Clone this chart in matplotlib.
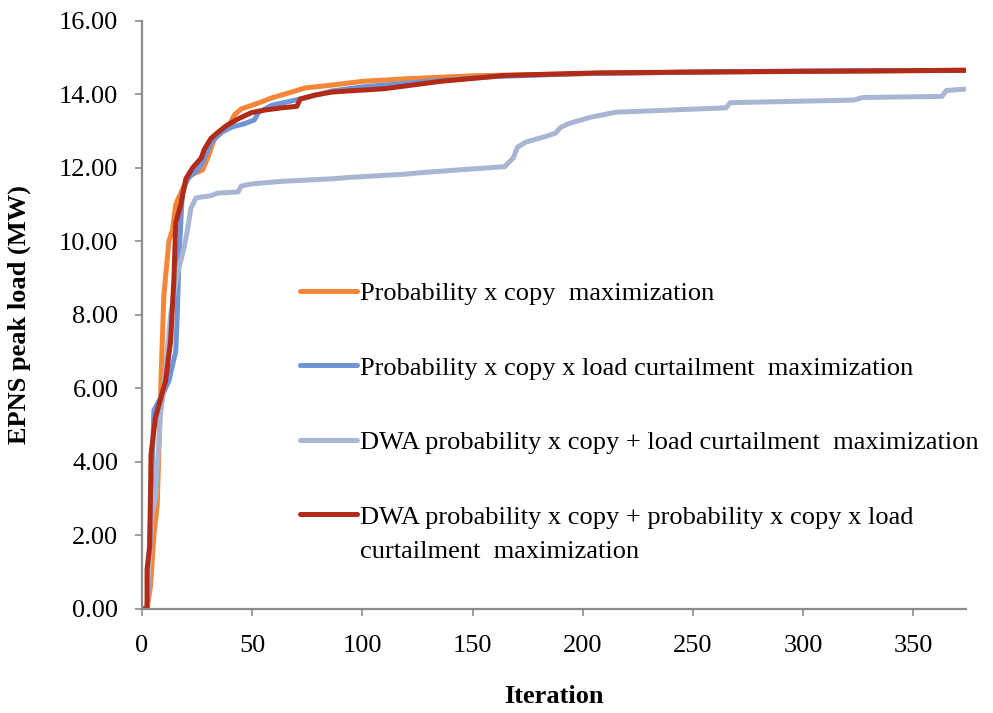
import numpy as np
import matplotlib.pyplot as plt

# Convergence of EPNS peak load per iteration for each objective
x_pc = [0, 2.3, 3.8, 5.4, 6.9, 8.4, 9.9, 12.2, 13.8, 15.3, 19, 22, 27.5, 29.8, 32.9,
        39, 42, 45, 52.8, 58.9, 68, 74, 86.4, 100, 120, 150, 200, 250, 300, 374]
y_pc = [0, 0, 0.6, 2.0, 2.8, 5.8, 8.5, 10.0, 10.3, 11.0, 11.5, 11.8, 11.94, 12.26, 12.8,
        13.1, 13.44, 13.6, 13.76, 13.9, 14.06, 14.17, 14.25, 14.35, 14.42, 14.5, 14.56,
        14.6, 14.62, 14.65]

x_pcl = [0, 2.3, 3.0, 5.4, 9.9, 12.2, 15.3, 16, 16.8, 17.6, 18.3, 20.6, 25.2, 27.5,
         31.3, 36, 40.5, 46.6, 51, 52.8, 58.9, 66.5, 74, 86.4, 100, 130, 160, 200,
         250, 300, 374]
y_pcl = [0, 0, 1.0, 5.4, 5.9, 6.2, 7.0, 8.0, 9.6, 10.5, 11.3, 11.7, 11.94, 12.15,
         12.69, 12.96, 13.1, 13.2, 13.3, 13.5, 13.7, 13.8, 13.9, 14.09, 14.2, 14.35,
         14.48, 14.56, 14.6, 14.63, 14.65]

x_dwa = [0, 2.3, 3.0, 4.6, 6.1, 6.9, 7.6, 8.4, 9.9, 13, 16, 19, 20.6, 22.2, 24.5,
         31.3, 34.4, 43.6, 45, 49.7, 63.5, 86.4, 94.9, 118, 129.6, 153, 164.6,
         168.5, 170.4, 174.3, 182, 187.7, 189.8, 193.6, 203.3, 215, 236, 265, 267,
         323, 327, 363, 365, 374]
y_dwa = [0, 0, 0.97, 2.6, 3.0, 3.9, 4.4, 5.3, 6.0, 8.0, 9.1, 9.8, 10.3, 10.9, 11.18,
         11.24, 11.31, 11.34, 11.5, 11.56, 11.63, 11.7, 11.74, 11.82, 11.88,
         11.98, 12.03, 12.27, 12.56, 12.7, 12.83, 12.94, 13.09, 13.2, 13.37, 13.51,
         13.56, 13.63, 13.77, 13.84, 13.91, 13.94, 14.1, 14.14]

x_dwa2 = [0, 2.3, 2.3, 3.5, 4.1, 6.1, 8.4, 10.7, 13, 14.5, 15.3, 17.6, 19.9, 23,
          26.8, 28.3, 31.3, 34.4, 38.2, 43.6, 49.7, 55.8, 63.5, 70.3, 71.8, 78.7,
          86.4, 110, 135.5, 164.5, 207, 265, 374]
y_dwa2 = [0, 0, 1.08, 1.7, 4.2, 5.2, 5.7, 6.2, 7.3, 9.0, 10.5, 11.0, 11.7, 12.0,
          12.26, 12.5, 12.8, 12.96, 13.14, 13.33, 13.5, 13.57, 13.63, 13.67, 13.87,
          13.98, 14.06, 14.15, 14.35, 14.51, 14.58, 14.61, 14.65]

labels = ['Probability x copy  maximization',
          'Probability x copy x load curtailment  maximization',
          'DWA probability x copy + load curtailment  maximization',
          'DWA probability x copy + probability x copy x load']
label_cont = 'curtailment  maximization'
colors = ['#F58637', '#6F95D9', '#A9B6D3', '#B22B18']

plt.rcParams['font.family'] = ['Liberation Serif', 'DejaVu Serif']
fs = 19

fig = plt.figure(figsize=(9.93, 7.13), dpi=100)
ax = fig.add_axes([0.143, 0.146, 0.830, 0.825])

series = [(x_pc, y_pc), (x_pcl, y_pcl), (x_dwa, y_dwa), (x_dwa2, y_dwa2)]
for (xs, ys), c, lab in zip(series, colors, labels):
    ax.plot(xs, ys, color=c, lw=3.6, label=lab, solid_capstyle='round')

ax.set_xlim(0, 374)
ax.set_ylim(0, 16)
ax.set_xticks(np.arange(0, 351, 50))
ax.set_yticks(np.arange(0, 16.1, 2))
ax.yaxis.set_major_formatter(plt.FormatStrFormatter('%.2f'))

for s in ['top', 'right']:
    ax.spines[s].set_visible(False)
for s in ['left', 'bottom']:
    ax.spines[s].set_color('#8c8c8c')
    ax.spines[s].set_linewidth(1.6)
ax.tick_params(axis='both', colors='#8c8c8c', width=1.2, length=5, labelsize=fs,
               labelcolor='black')
ax.tick_params(axis='x', pad=14)
ax.tick_params(axis='y', pad=12)

ax.set_xlabel('Iteration', fontsize=fs, fontweight='bold', labelpad=20)
ax.set_ylabel('EPNS peak load (MW)', fontsize=fs, fontweight='bold', labelpad=20)

leg = ax.legend(loc='upper left', bbox_to_anchor=(0.192, 0.556), frameon=False,
                fontsize=fs, handlelength=2.15, handletextpad=0.12, labelspacing=1.93,
                borderpad=0, borderaxespad=0)

# second line of the last legend entry, placed under its first line
fig.canvas.draw()
bb = leg.get_texts()[3].get_window_extent()
fig.text(bb.x0 / fig.bbox.width, (bb.y0 - 34) / fig.bbox.height, label_cont,
         fontsize=fs, ha='left', va='bottom')

plt.savefig('out.png', dpi=100)
